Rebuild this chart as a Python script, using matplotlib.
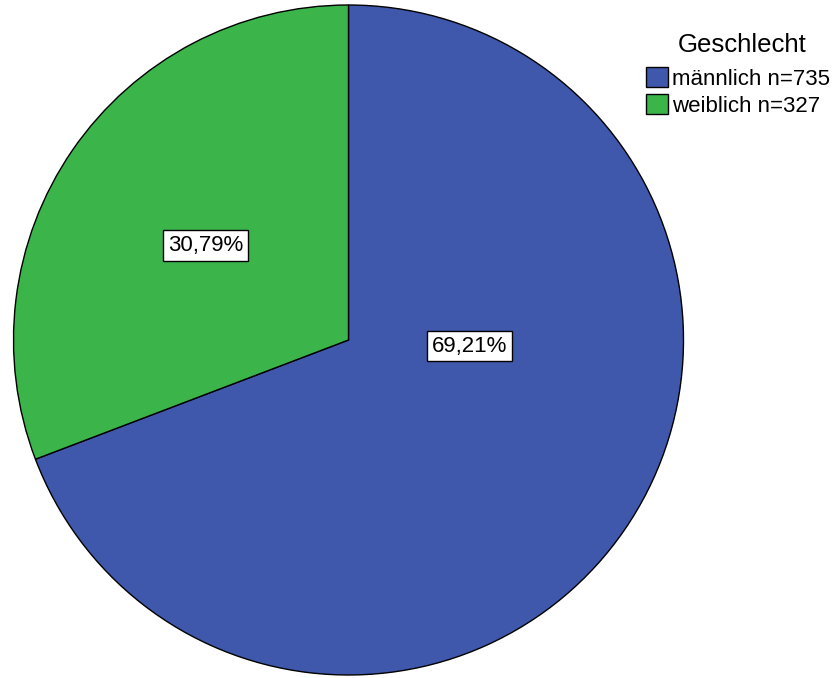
import matplotlib
matplotlib.use("Agg")
import matplotlib.pyplot as plt

plt.rcParams['font.family'] = ['Liberation Sans', 'DejaVu Sans']

categories = ["männlich", "weiblich"]
counts = [735, 327]
percent_labels = ["69,21%", "30,79%"]
colors = ["#3F58AC", "#3BB44A"]
legend_title = "Geschlecht"
# label positions in pie data coords (radius = 1)
label_pos = [(0.362, -0.018), (-0.427, 0.282)]

W, H = 840, 678
fig = plt.figure(figsize=(W / 100, H / 100), dpi=100)
cx, cy, r = 348.5, 340, 336
ax = fig.add_axes([(cx - r) / W, (H - cy - r) / H, 2 * r / W, 2 * r / H])

wedges, _ = ax.pie(counts, colors=colors, startangle=90, counterclock=False,
                   radius=1, wedgeprops=dict(edgecolor="black", linewidth=1.0))
ax.set_xlim(-1.003, 1.003)
ax.set_ylim(-1.003, 1.003)
ax.set_aspect("equal")
ax.axis("off")

for (x, y), lab in zip(label_pos, percent_labels):
    ax.text(x, y, lab, ha="center", va="center", fontsize=16,
            bbox=dict(boxstyle="square,pad=0.22", facecolor="white",
                      edgecolor="black", linewidth=1.0))

leg_labels = [f"{c} n={n}" for c, n in zip(categories, counts)]
leg = fig.legend(wedges, leg_labels, loc="upper left",
                 bbox_to_anchor=(646 / W, 1 - 67 / H), bbox_transform=fig.transFigure,
                 frameon=False, fontsize=16,
                 handlelength=1.0, handleheight=1.0, handletextpad=0.18,
                 labelspacing=0.2, borderpad=0, borderaxespad=0)
fig.text(742.5 / W, 1 - 51.5 / H, legend_title, ha="center", va="baseline",
         fontsize=18.5)

fig.savefig("out.png", dpi=100)
